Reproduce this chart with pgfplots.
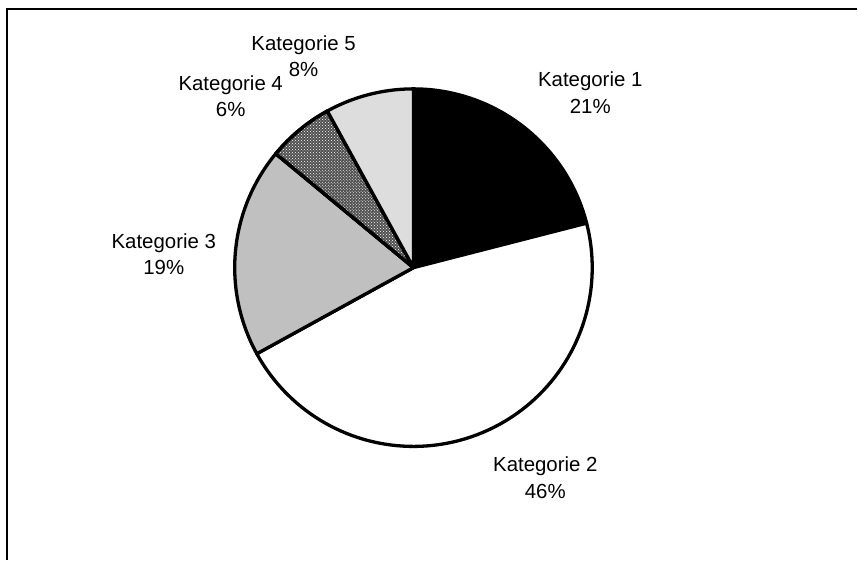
\documentclass[border=0pt]{standalone}
\usepackage{pgfplots}
\pgfplotsset{compat=1.18}
\usetikzlibrary{patterns}
\usepackage{fontspec}
\setmainfont{Liberation Sans}
\definecolor{kThree}{HTML}{C0C0C0}
\definecolor{kFive}{HTML}{DDDDDD}
\definecolor{kFour}{HTML}{505050}
% slice: #1 cumulative percent before, #2 percent, #3 style
\newcommand\slice[3]{%
  \pgfmathsetmacro\aA{90-3.6*(#1)}%
  \pgfmathsetmacro\aB{90-3.6*(#1+#2)}%
  \edef\doslice{\noexpand\addplot[#3, draw=black, line width=3.3bp, line join=round, domain=\aB:\aA, samples=90]}%
  \doslice ({414+179*cos(x)},{293+179*sin(x)}) -- (axis cs:414,293) -- cycle;
}
\begin{document}
\begin{tikzpicture}
\begin{axis}[
  at={(0,0)}, anchor=origin,
  width=858bp, height=561bp, scale only axis,
  xmin=0, xmax=858, ymin=0, ymax=561,
  hide axis, clip=false,
]
\path (axis cs:0,0) rectangle (axis cs:858,561);
\draw[line width=2.2bp] (axis cs:7,0) -- (axis cs:7,552) -- (axis cs:858,552);
% data: Kategorie 1..5 = 21, 46, 19, 6, 8 (percent)
\slice{0}{21}{fill=black}
\slice{21}{46}{fill=white}
\slice{67}{19}{fill=kThree}
\slice{86}{6}{fill=kFour, postaction={pattern=crosshatch dots, pattern color=white}}
\slice{92}{8}{fill=kFive}
\begin{scope}[every node/.style={font=\fontsize{20.5}{27}\selectfont, align=center}]
\node at (axis cs:591,468.5) {Kategorie 1\\21\%};
\node at (axis cs:546,82.6) {Kategorie 2\\46\%};
\node at (axis cs:164,306.5) {Kategorie 3\\19\%};
\node at (axis cs:231,464.7) {Kategorie 4\\6\%};
\node at (axis cs:304,504.7) {Kategorie 5\\8\%};
\end{scope}
\end{axis}
\end{tikzpicture}
\end{document}
